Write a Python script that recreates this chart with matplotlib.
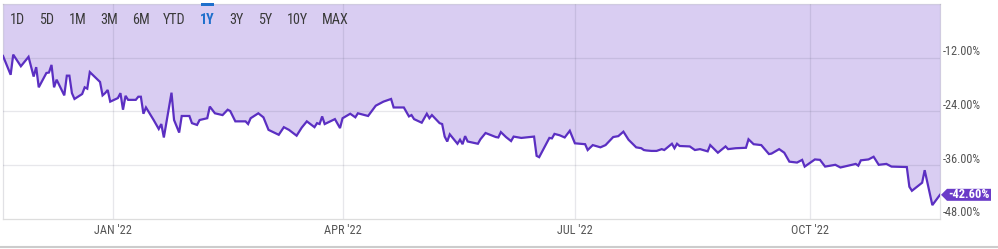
import matplotlib
matplotlib.use("Agg")
import matplotlib.pyplot as plt
import matplotlib.dates as mdates
from matplotlib import font_manager
from matplotlib.patches import Polygon
import pandas as pd

# ---------------- data ----------------
dates = [
    "2021-11-19", "2021-11-22", "2021-11-23", "2021-11-26", "2021-11-29", "2021-12-01",
    "2021-12-02", "2021-12-03", "2021-12-06", "2021-12-07", "2021-12-08", "2021-12-09",
    "2021-12-10", "2021-12-13", "2021-12-14", "2021-12-15", "2021-12-16", "2021-12-17",
    "2021-12-20", "2021-12-21", "2021-12-22", "2021-12-23", "2021-12-27", "2021-12-28",
    "2021-12-29", "2021-12-30", "2021-12-31", "2022-01-03", "2022-01-04", "2022-01-05",
    "2022-01-06", "2022-01-07", "2022-01-10", "2022-01-11", "2022-01-12", "2022-01-13",
    "2022-01-14", "2022-01-17", "2022-01-19", "2022-01-20", "2022-01-21", "2022-01-24",
    "2022-01-25", "2022-01-27", "2022-01-28", "2022-01-31", "2022-02-01", "2022-02-03",
    "2022-02-04", "2022-02-07", "2022-02-08", "2022-02-10", "2022-02-13", "2022-02-15",
    "2022-02-16", "2022-02-18", "2022-02-22", "2022-02-23", "2022-02-24", "2022-02-27",
    "2022-03-01", "2022-03-03", "2022-03-07", "2022-03-09", "2022-03-11", "2022-03-14",
    "2022-03-16", "2022-03-18", "2022-03-21", "2022-03-22", "2022-03-23", "2022-03-24",
    "2022-03-25", "2022-03-29", "2022-03-31", "2022-04-01", "2022-04-04", "2022-04-06",
    "2022-04-07", "2022-04-11", "2022-04-14", "2022-04-17", "2022-04-20", "2022-04-21",
    "2022-04-25", "2022-04-27", "2022-04-28", "2022-04-29", "2022-05-02", "2022-05-04",
    "2022-05-05", "2022-05-06", "2022-05-09", "2022-05-10", "2022-05-11", "2022-05-12",
    "2022-05-13", "2022-05-16", "2022-05-17", "2022-05-18", "2022-05-19", "2022-05-20",
    "2022-05-24", "2022-05-25", "2022-05-27", "2022-05-31", "2022-06-01", "2022-06-02",
    "2022-06-04", "2022-06-06", "2022-06-07", "2022-06-10", "2022-06-15", "2022-06-16",
    "2022-06-17", "2022-06-21", "2022-06-22", "2022-06-23", "2022-06-25", "2022-06-27",
    "2022-06-29", "2022-07-01", "2022-07-05", "2022-07-06", "2022-07-08", "2022-07-11",
    "2022-07-13", "2022-07-16", "2022-07-18", "2022-07-20", "2022-07-22", "2022-07-25",
    "2022-07-27", "2022-07-28", "2022-07-29", "2022-07-31", "2022-08-02", "2022-08-04",
    "2022-08-05", "2022-08-08", "2022-08-09", "2022-08-10", "2022-08-11", "2022-08-15",
    "2022-08-17", "2022-08-19", "2022-08-22", "2022-08-23", "2022-08-26", "2022-08-29",
    "2022-08-30", "2022-09-02", "2022-09-06", "2022-09-07", "2022-09-09", "2022-09-12",
    "2022-09-15", "2022-09-16", "2022-09-19", "2022-09-21", "2022-09-23", "2022-09-26",
    "2022-09-28", "2022-09-29", "2022-10-03", "2022-10-05", "2022-10-07", "2022-10-11",
    "2022-10-13", "2022-10-16", "2022-10-19", "2022-10-20", "2022-10-21", "2022-10-24",
    "2022-10-26", "2022-10-28", "2022-10-31", "2022-11-02", "2022-11-08", "2022-11-09",
    "2022-11-10", "2022-11-14", "2022-11-15", "2022-11-18", "2022-11-21",
]
values = [
    -11.6, -15.8, -11.3, -13.9, -11.8, -16.2,
    -14.1, -18.6, -15.4, -15.3, -13.6, -18.6,
    -16.9, -20.4, -16.0, -16.0, -19.9, -21.2,
    -20.1, -18.6, -18.9, -15.2, -17.4, -20.4,
    -19.9, -19.2, -21.8, -21.0, -19.9, -23.6,
    -20.5, -21.4, -21.4, -20.7, -20.7, -24.5,
    -23.1, -25.9, -27.9, -26.8, -29.8, -19.8,
    -25.9, -28.7, -25.0, -25.0, -26.6, -27.0,
    -25.9, -25.5, -22.9, -24.4, -24.8, -23.6,
    -23.9, -26.2, -26.2, -26.8, -25.5, -24.4,
    -25.3, -28.1, -29.2, -27.5, -28.1, -29.4,
    -27.6, -26.2, -27.5, -26.6, -26.8, -25.1,
    -26.8, -25.7, -27.7, -25.5, -24.5, -25.3,
    -24.4, -25.0, -22.7, -21.8, -21.2, -23.1,
    -23.1, -25.1, -24.8, -25.7, -26.5, -24.5,
    -25.5, -24.8, -26.6, -26.8, -29.6, -30.7,
    -29.1, -31.2, -30.3, -31.3, -29.5, -30.7,
    -31.2, -30.2, -28.8, -29.7, -29.8, -28.6,
    -29.7, -30.6, -29.6, -29.9, -29.6, -33.9,
    -34.2, -29.9, -30.0, -29.0, -29.3, -29.8,
    -28.3, -31.1, -31.3, -32.6, -31.5, -32.0,
    -31.5, -29.7, -29.5, -28.5, -30.3, -32.0,
    -32.2, -32.6, -32.7, -32.8, -32.8, -32.4,
    -32.6, -31.2, -32.2, -31.2, -31.7, -31.8,
    -32.6, -32.4, -32.9, -31.5, -33.2, -31.8,
    -32.4, -32.2, -32.1, -30.2, -31.3, -31.5,
    -33.5, -33.4, -32.4, -33.2, -35.2, -35.4,
    -34.8, -36.3, -34.7, -34.8, -36.3, -35.9,
    -36.5, -36.1, -35.7, -36.1, -34.9, -34.7,
    -34.1, -35.9, -35.7, -36.3, -36.4, -40.8,
    -41.7, -39.9, -37.1, -44.9, -42.6,
]
y_ticks = [-12, -24, -36, -48]
y_tick_labels = ["-12.00%", "-24.00%", "-36.00%", "-48.00%"]
x_ticks = ["2022-01-01", "2022-04-01", "2022-07-01", "2022-10-01"]
x_tick_labels = ["JAN '22", "APR '22", "JUL '22", "OCT '22"]
range_buttons = ["1D", "5D", "1M", "3M", "6M", "YTD", "1Y", "3Y", "5Y", "10Y", "MAX"]
active_button = "1Y"
last_label = "-42.60%"

# ---------------- fonts ----------------
def pick_font(cands):
    for c in cands:
        try:
            font_manager.findfont(font_manager.FontProperties(family=c), fallback_to_default=False)
            return c
        except Exception:
            continue
    return "DejaVu Sans"

NARROW = pick_font(["Liberation Sans Narrow", "Roboto Condensed", "Roboto"])
plt.rcParams["font.family"] = [NARROW, "DejaVu Sans"]

# ---------------- figure ----------------
W, H = 998, 249
fig = plt.figure(figsize=(W / 100, H / 100), dpi=100)
fig.patch.set_facecolor("white")

ax_l, ax_r, ax_t, ax_b = 3, 940, 4, 219
ax = fig.add_axes([ax_l / W, 1 - ax_b / H, (ax_r - ax_l) / W, (ax_b - ax_t) / H])
ax.set_facecolor("white")

x = pd.to_datetime(dates)
LINE = "#5b2fc2"
FILL = "#d9cdf2"

ax.set_ylim(-48, 0)
ax.set_xlim(x[0], x[-1])
ax.fill_between(x, values, 0, color=FILL, lw=0, zorder=1)
ax.plot(x, values, color=LINE, lw=1.6, zorder=4, solid_joinstyle="miter")

grid_c = (0.35, 0.35, 0.45, 0.14)
for yv in y_ticks[:-1]:
    ax.axhline(yv, color=grid_c, lw=0.9, zorder=2)
for xv in pd.to_datetime(x_ticks):
    ax.axvline(xv, color=grid_c, lw=0.9, zorder=2)

for s in ["top", "right", "left"]:
    ax.spines[s].set_color((0.35, 0.35, 0.45, 0.18))
    ax.spines[s].set_linewidth(0.9)
ax.spines["bottom"].set_color("#dddddd")
ax.spines["bottom"].set_linewidth(0.9)

ax.set_xticks([])
ax.set_yticks([])

# x labels
for xv, lab in zip(pd.to_datetime(x_ticks), x_tick_labels):
    ax.annotate(lab, xy=(mdates.date2num(xv), 0), xycoords=("data", "axes fraction"),
                xytext=(0, -12), textcoords="offset pixels", ha="center", va="center",
                fontsize=8.8, color="#555555")

# y labels (to the right, slightly above the gridlines)
for yv, lab in zip(y_ticks, y_tick_labels):
    ax.annotate(lab, xy=(1, yv), xycoords=("axes fraction", "data"),
                xytext=(3, 6), textcoords="offset pixels", ha="left", va="center",
                fontsize=8.8, color="#555555")

# last value tag
trans = ax.transData
px0, py0 = trans.transform((mdates.date2num(x[-1]), values[-1]))
fx = lambda p: p / W
fy = lambda p: p / H
tip_x = px0 + 1
bx0, bx1 = px0 + 7, px0 + 51
hh = 6
poly = Polygon([(fx(tip_x), fy(py0)), (fx(bx0), fy(py0 + hh)), (fx(bx1), fy(py0 + hh)),
                (fx(bx1), fy(py0 - hh)), (fx(bx0), fy(py0 - hh))],
               closed=True, transform=fig.transFigure, facecolor="#6a3bc8",
               edgecolor="none", zorder=10)
fig.add_artist(poly)
fig.text(fx((bx0 + bx1) / 2 - 0.5), fy(py0), last_label, ha="center", va="center",
         fontsize=9, color="white", fontweight="bold", zorder=11)

# range buttons
btn_x = [17.8, 47, 77.8, 109, 141, 174.3, 207, 236.7, 265.5, 297, 335]
for bx, lab in zip(btn_x, range_buttons):
    active = lab == active_button
    fig.text(bx / W, 1 - 20 / H, lab, ha="center", va="center", fontsize=10.2,
             color="#1e6fcc" if active else "#3a3a3a",
             fontweight="bold" if active else "normal", zorder=11)
    if active:
        fig.add_artist(plt.Rectangle((201 / W, 1 - 6 / H), 13 / W, 2.5 / H,
                                     transform=fig.transFigure, color="#1e6fcc", lw=0,
                                     zorder=11))

# bottom separator
fig.add_artist(plt.Line2D([0, 1], [1 - 247 / H, 1 - 247 / H], transform=fig.transFigure,
                          color="#cccccc", lw=1.5))

fig.savefig("out.png", dpi=100, facecolor="white")
